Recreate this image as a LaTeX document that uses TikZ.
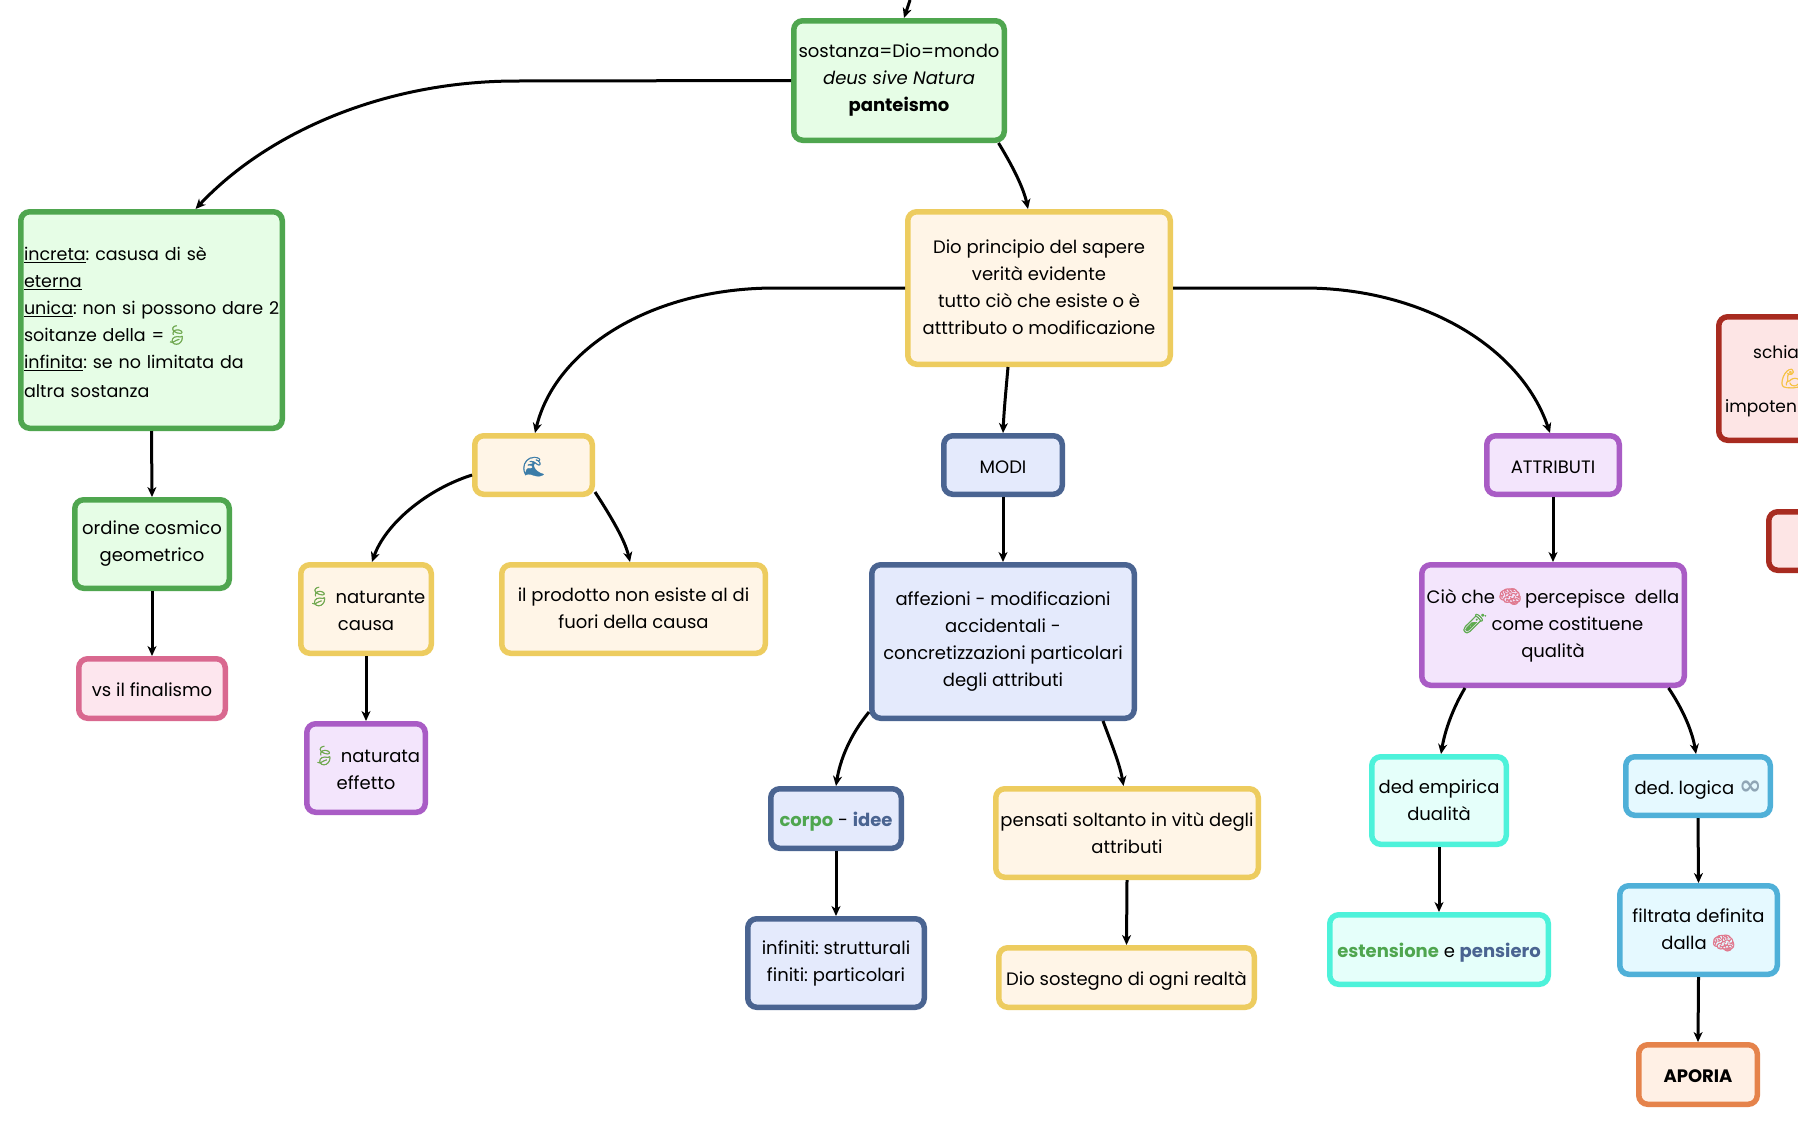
\documentclass[tikz,border=0pt]{standalone}
\usepackage{fontspec}
\usetikzlibrary{arrows.meta}
\setmainfont{Poppins}
\newfontfamily\emojif[FakeBold=1.5]{Noto Emoji}
\newfontfamily\symf{DejaVu Sans}
\definecolor{gB}{HTML}{4FA64F}\definecolor{gF}{HTML}{E6FDE6}
\definecolor{yB}{HTML}{EDCC5F}\definecolor{yF}{HTML}{FFF5E7}
\definecolor{bB}{HTML}{4A6491}\definecolor{bF}{HTML}{E4EAFC}
\definecolor{pB}{HTML}{A95CC5}\definecolor{pF}{HTML}{F3E5FC}
\definecolor{rB}{HTML}{A82B20}\definecolor{rF}{HTML}{FDE5E5}
\definecolor{kB}{HTML}{D9688F}\definecolor{kF}{HTML}{FDE6EE}
\definecolor{tB}{HTML}{4DF2DA}\definecolor{tF}{HTML}{E5FFFA}
\definecolor{lB}{HTML}{4FB0D8}\definecolor{lF}{HTML}{E5F9FF}
\definecolor{oB}{HTML}{E5834B}\definecolor{oF}{HTML}{FFF0E5}
\definecolor{leafc}{HTML}{6FA84F}\definecolor{wavec}{HTML}{3B7CA8}
\definecolor{brainc}{HTML}{E0788E}\definecolor{tubec}{HTML}{5DAA4E}
\definecolor{infc}{HTML}{8FA5B5}\definecolor{armc}{HTML}{F5C242}
\newcommand\eleaf{{\emojif\fontsize{19}{27}\selectfont\color{leafc}🍃}}
\newcommand\ewave{{\emojif\fontsize{19}{27}\selectfont\color{wavec}🌊}}
\newcommand\ebrain{{\emojif\fontsize{19}{27}\selectfont\color{brainc}🧠}}
\newcommand\etube{{\emojif\fontsize{19}{27}\selectfont\color{tubec}🧪}}
\newcommand\einf{{\symf\bfseries\fontsize{27}{27}\selectfont\color{infc}∞}}
\newcommand\earm{{\emojif\fontsize{19}{27}\selectfont\color{armc}💪}}
% struts that centre the lines as the reference does
\newcommand\mstrut{\rule[-1.1pt]{0pt}{27pt}}
\newcommand\sstrut{\rule[-9.7pt]{0pt}{27pt}}
\newcommand\lstrut{\rule[-7.8pt]{0pt}{27pt}}
\tikzset{
  box/.style={draw,line width=5.5pt,rounded corners=9pt,inner sep=1pt,align=center,text=black,
    font=\fontsize{18}{27}\selectfont\frenchspacing,
    execute at begin node=\mstrut,execute at end node=\mstrut},
  oneline/.style={execute at begin node=\sstrut,execute at end node=\sstrut},
  leftblock/.style={text width=255pt,align=left,font=\fontsize{17.5}{27}\selectfont\frenchspacing,
    execute at begin node=\lstrut,execute at end node=\lstrut},
  green/.style={draw=gB,fill=gF},
  yel/.style={draw=yB,fill=yF},
  blu/.style={draw=bB,fill=bF},
  pur/.style={draw=pB,fill=pF},
  redb/.style={draw=rB,fill=rF},
  pnk/.style={draw=kB,fill=kF},
  tur/.style={draw=tB,fill=tF},
  lbl/.style={draw=lB,fill=lF},
  org/.style={draw=oB,fill=oF},
  frag/.style={inner sep=0pt,anchor=base west,text=black,font=\fontsize{17}{27}\selectfont},
  conn/.style={draw=black,line width=3pt,-{Stealth[length=10pt,width=9pt,inset=3pt]}},
}
\newcommand\nd[7]{%
  \pgfmathsetmacro\ncx{(#2+#4)/2}\pgfmathsetmacro\ncy{(#3+#5)/2}%
  \pgfmathsetmacro\nww{#4-#2-5.5}\pgfmathsetmacro\nhh{#5-#3-5.5}%
  \node[box,#6,minimum width=\nww pt,minimum height=\nhh pt] (#1) at (\ncx,\ncy) {#7};}
\begin{document}
\begin{tikzpicture}[x=1pt,y=-1pt]
\path[use as bounding box,fill=white] (0,0) rectangle (1798,1125);
\clip (0,0) rectangle (1798,1125);
\nd{A}{791}{18}{1007}{143}{green}{sostanza=Dio=mondo\\\textit{deus sive Natura}\\\textbf{panteismo}}
\nd{B}{18}{209}{285}{431}{green,leftblock}{\underline{increta}: casusa di sè\\\underline{eterna}\\\mbox{\underline{unica}: non si possono dare 2}\\soitanze della =\eleaf\\\underline{infinita}: se no limitata da\\altra sostanza}
\nd{C}{905}{209}{1173}{367}{yel}{Dio principio del sapere\\verità evidente\\tutto ciò che esiste o è\\atttributo o modificazione}
\nd{D}{472}{433}{595}{497}{yel,oneline}{\ewave}
\nd{E}{941}{433}{1065}{497}{blu,oneline}{MODI}
\nd{F}{1484}{433}{1622}{497}{pur,oneline}{ATTRIBUTI}
\nd{G}{1716}{314}{1860}{443}{redb}{}
\nd{H}{1766}{509}{1860}{573}{redb}{}
\nd{I}{72}{497}{232}{591}{green}{ordine cosmico\\geometrico}
\nd{J}{76}{656}{228}{721}{pnk,oneline}{vs il finalismo}
\nd{K}{298}{562}{434}{656}{yel}{\eleaf\ naturante\\causa}
\nd{L}{499}{562}{768}{656}{yel}{il prodotto non esiste al di\\fuori della causa}
\nd{M}{304}{721}{428}{815}{pur}{\eleaf\ naturata\\effetto}
\nd{N}{869}{562}{1137}{721}{blu}{affezioni - modificazioni\\accidentali -\\concretizzazioni particolari\\degli attributi}
\nd{O}{768}{786}{904}{851}{blu,oneline}{\textbf{\textcolor{gB}{corpo}} - \textbf{\textcolor{bB}{idee}}}
\nd{P}{745}{916}{927}{1010}{blu}{infiniti: strutturali\\finiti: particolari}
\nd{Q}{993}{786}{1261}{880}{yel}{pensati soltanto in vitù degli\\attributi}
\nd{R}{996}{945}{1257}{1010}{yel,oneline}{Dio sostegno di ogni realtà}
\nd{S}{1419}{562}{1687}{688}{pur}{Ciò che\,\ebrain\,percepisce\ \ della\\\etube\ come costituene\\qualità}
\nd{T}{1369}{754}{1509}{847}{tur}{ded empirica\\dualità}
\nd{U}{1623}{754}{1773}{818}{lbl,oneline}{ded. logica \einf}
\nd{V}{1327}{912}{1551}{987}{tur,oneline}{\textbf{\textcolor{gB}{estensione}} e \textbf{\textcolor{bB}{pensiero}}}
\nd{W}{1617}{883}{1780}{977}{lbl}{filtrata definita\\dalla \ebrain}
\nd{X}{1636}{1042}{1760}{1107}{org,oneline}{\textbf{APORIA}}
\node[frag] (Ga) at (1753,358) {schia};
\node[frag] (Gb) at (1779,385) {\earm};
\node[frag] (Gc) at (1725,412) {impoten};
\coordinate (topin) at (910,0);
\draw[conn] (topin) .. controls (908,6) and (906,12) .. ([xshift=5pt]A.north);
\draw[conn] (A.west) -- (517,81) .. controls (380,81) and (265,135) .. ([xshift=44pt]B.north);
\draw[conn] ([xshift=99.5pt]A.south) .. controls (1015,170) and (1024,190) .. ([xshift=-11pt]C.north);
\draw[conn] (C.west) -- (775,288) .. controls (650,288) and (555,350) .. ([xshift=1.5pt]D.north);
\draw[conn] ([xshift=-31pt]C.south) .. controls (1006,390) and (1004,410) .. (E.north);
\draw[conn] (C.east) -- (1304,288) .. controls (1420,288) and (1520,345) .. ([xshift=-3pt]F.north);
\draw[conn] (B.south) -- (I.north);
\draw[conn] (I.south) -- (J.north);
\draw[conn] ([yshift=-10pt]D.west) .. controls (425,490) and (385,525) .. ([xshift=6pt]K.north);
\draw[conn] ([yshift=-27pt]D.east) .. controls (610,515) and (625,540) .. ([xshift=-3.5pt]L.north);
\draw[conn] (K.south) -- (M.north);
\draw[conn] (E.south) -- (N.north);
\draw[conn] ([yshift=-70.5pt]N.west) .. controls (850,735) and (840,760) .. (O.north);
\draw[conn] ([xshift=100pt]N.south) .. controls (1112,745) and (1120,765) .. ([xshift=-3.5pt]Q.north);
\draw[conn] (O.south) -- (P.north);
\draw[conn] (Q.south) -- (R.north);
\draw[conn] (F.south) -- (S.north);
\draw[conn] ([xshift=-88pt]S.south) .. controls (1453,708) and (1445,730) .. ([xshift=2pt]T.north);
\draw[conn] ([xshift=115.5pt]S.south) .. controls (1682,708) and (1692,730) .. ([xshift=-2pt]U.north);
\draw[conn] (T.south) -- (V.north);
\draw[conn] (U.south) -- (W.north);
\draw[conn] (W.south) -- (X.north);
\end{tikzpicture}
\end{document}
